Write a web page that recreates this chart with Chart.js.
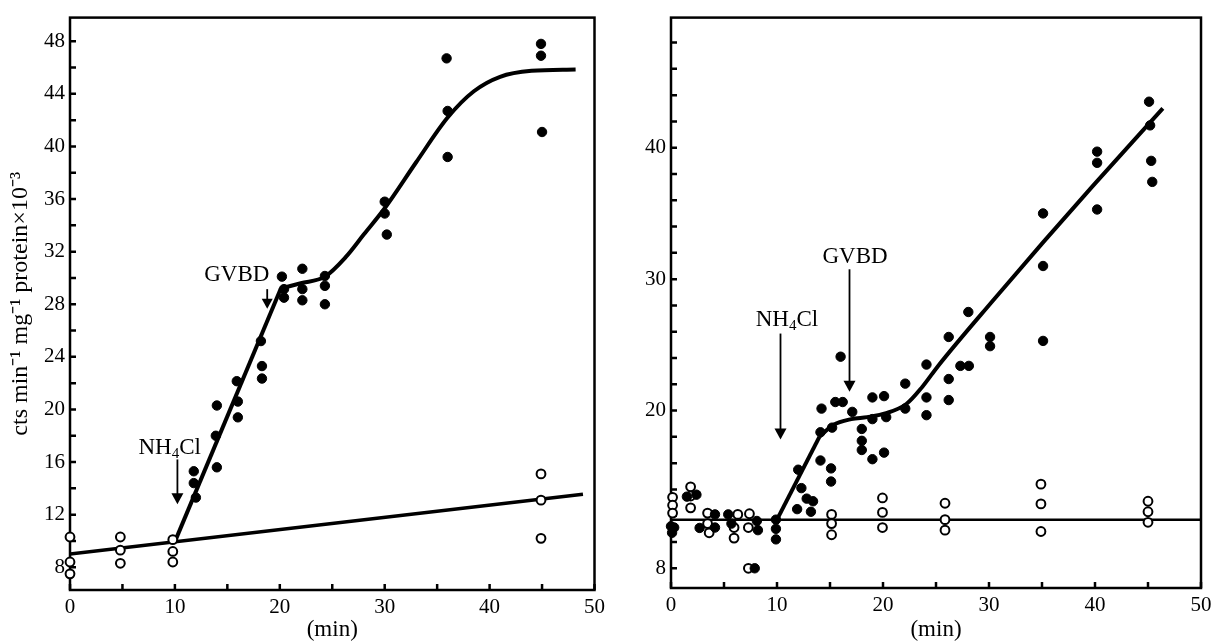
<!DOCTYPE html>
<html>
<head>
<meta charset="utf-8">
<script src="https://cdn.jsdelivr.net/npm/chart.js@4.4.1/dist/chart.umd.min.js"></script>
<style>
  html, body { margin: 0; padding: 0; background: #fff; }
  #wrap { position: relative; width: 1219px; height: 644px; }
  canvas { position: absolute; top: 0; }
  #chartA { left: 0; }
  #chartB { left: 610px; }
</style>
</head>
<body>
<div id="wrap">
  <canvas id="chartA" width="610" height="644"></canvas>
  <canvas id="chartB" width="609" height="644"></canvas>
</div>
<script>
// ---- left panel ----
const leftOpenX = [0, 0, 0, 4.8, 4.8, 4.8, 9.8, 9.8, 9.8, 44.9, 44.9, 44.9];
const leftOpenY = [10.3, 8.4, 7.5, 10.3, 9.3, 8.3, 10.1, 9.2, 8.4, 15.1, 13.1, 10.2];
const leftFilledX = [11.8, 11.8, 12.0, 14.0, 13.9, 14.0, 15.9, 16.0, 16.0, 18.2, 18.3, 18.3,
  20.2, 20.4, 20.4, 22.15, 22.15, 22.15, 24.3, 24.3, 24.3, 30.0, 30.0, 30.2, 35.9, 36.0, 36.0,
  44.9, 44.9, 45.0];
const leftFilledY = [15.3, 14.4, 13.3, 20.3, 18.0, 15.6, 22.15, 20.6, 19.4, 25.2, 23.3, 22.35,
  30.1, 29.15, 28.5, 30.7, 29.15, 28.3, 30.15, 29.4, 28.0, 35.8, 34.9, 33.3, 46.7, 42.7, 39.2,
  47.8, 46.9, 41.1];
const leftBaseX = [0, 48.9];
const leftBaseY = [9.0, 13.55];
const leftRiseX = [10, 20.1];
const leftRiseY = [9.95, 29.2];
const leftCurveX = [20.1, 22, 24.3, 26.3, 28, 30, 33, 36, 38.5, 41, 44, 48.2];
const leftCurveY = [29.2, 29.6, 30.1, 31.6, 33.3, 35.3, 38.8, 42.2, 44.2, 45.3, 45.75, 45.85];

// ---- right panel ----
const rightOpenX = [0.15, 0.15, 0.15, 1.85, 1.85, 1.85, 3.45, 3.45, 3.6, 6.3, 5.95, 5.95,
  7.4, 7.3, 7.3, 15.15, 15.15, 15.15, 19.95, 19.95, 19.95, 25.85, 25.85, 25.85,
  34.9, 34.9, 34.9, 45.0, 45.0, 45.0];
const rightOpenY = [13.4, 12.8, 12.2, 14.2, 13.5, 12.6, 12.2, 11.4, 10.7, 12.1, 11.1, 10.3,
  12.15, 11.1, 8.0, 12.1, 11.4, 10.55, 13.35, 12.25, 11.1, 12.95, 11.7, 10.9,
  14.4, 12.9, 10.8, 13.1, 12.3, 11.5];
const rightFilledX = [0, 0.3, 0.1, 1.5, 2.4, 2.7, 4.15, 4.15, 5.4, 5.7, 8.1, 8.2, 7.9,
  9.9, 9.9, 9.9, 12.0, 12.3, 12.8, 13.4, 11.9, 13.2, 14.1, 14.1, 14.2, 15.1, 15.1, 15.2,
  15.5, 16.2, 16.0, 17.1, 18.0, 18.0, 18.0, 19.0, 19.0, 19.0, 20.1, 20.3, 20.1,
  22.1, 22.1, 24.1, 24.1, 24.1, 26.2, 26.2, 26.2, 27.3, 28.1, 28.05, 30.1, 30.1,
  35.1, 35.1, 35.1, 40.2, 40.2, 40.2, 45.1, 45.2, 45.3, 45.4];
const rightFilledY = [11.2, 11.1, 10.7, 13.45, 13.6, 11.07, 12.1, 11.1, 12.1, 11.4, 11.6, 10.9, 8.0,
  11.7, 11.0, 10.2, 15.5, 14.1, 13.3, 13.1, 12.5, 12.3, 18.35, 16.2, 20.15, 15.6, 14.6, 18.7,
  20.65, 20.65, 24.1, 19.9, 18.6, 17.7, 17.0, 21.0, 19.35, 16.3, 21.1, 19.5, 16.8,
  22.05, 20.15, 23.5, 21.0, 19.65, 25.6, 22.4, 20.8, 23.4, 23.4, 27.5, 25.6, 24.9,
  35.0, 31.0, 25.3, 39.7, 38.85, 35.3, 43.5, 41.7, 39.0, 37.4];
const rightBaseX = [0, 50];
const rightBaseY = [11.7, 11.7];
const rightRiseX = [10, 14.0];
const rightRiseY = [11.7, 18.0];
const rightCurveX = [14.0, 15.3, 17.0, 18.5, 20.3, 22.2, 23.7, 25.2, 30.4, 35.1, 39.8, 46.4];
const rightCurveY = [18.0, 18.9, 19.35, 19.5, 19.8, 20.5, 21.8, 23.4, 28.4, 32.8, 37.1, 43.0];

const xTickLabels = [0, 10, 20, 30, 40, 50];
const leftYTickLabels = [8, 12, 16, 20, 24, 28, 32, 36, 40, 44, 48];
const rightYTickLabels = [8, 20, 30, 40];

const yTitle = 'cts min\u207B\u00B9 mg\u207B\u00B9 protein\u00D710\u207B\u00B3';

Chart.defaults.font.family = '"Liberation Serif", "Times New Roman", serif';
Chart.defaults.color = '#000';

const pts = (xs, ys) => xs.map((x, i) => ({ x: x, y: ys[i] }));

// frame and inward tick marks under the data, arrow notes on top
const marks = {
  id: 'marks',
  beforeDatasetsDraw(chart) {
    const { ctx, chartArea: a, scales } = chart;
    ctx.save();
    ctx.strokeStyle = '#000';
    ctx.lineWidth = 2.5;
    ctx.strokeRect(a.left, a.top, a.right - a.left, a.bottom - a.top);
    ctx.beginPath();
    scales.x.ticks.forEach(t => {
      const px = scales.x.getPixelForValue(t.value);
      ctx.moveTo(px, a.bottom);
      ctx.lineTo(px, a.bottom - 6);
    });
    scales.y.ticks.forEach(t => {
      const py = scales.y.getPixelForValue(t.value);
      ctx.moveTo(a.left, py);
      ctx.lineTo(a.left + 6, py);
    });
    ctx.stroke();
    ctx.restore();
  },
  afterDatasetsDraw(chart, args, opts) {
    const { ctx, scales } = chart;
    ctx.save();
    ctx.strokeStyle = '#000';
    ctx.fillStyle = '#000';
    (opts.notes || []).forEach(n => {
      const sx = scales.x, sy = scales.y;
      const mainFont = '23px "Liberation Serif"';
      const subFont = '15px "Liberation Serif"';
      let w = 0;
      n.parts.forEach(p => {
        ctx.font = p[1] ? subFont : mainFont;
        w += ctx.measureText(p[0]).width;
      });
      let cx = sx.getPixelForValue(n.tx) - w / 2;
      const cy = sy.getPixelForValue(n.ty);
      ctx.textBaseline = 'middle';
      ctx.textAlign = 'left';
      n.parts.forEach(p => {
        ctx.font = p[1] ? subFont : mainFont;
        ctx.fillText(p[0], cx, p[1] ? cy + 6 : cy);
        cx += ctx.measureText(p[0]).width;
      });
      // arrow
      const ax = sx.getPixelForValue(n.x);
      const y0 = sy.getPixelForValue(n.y0);
      const y1 = sy.getPixelForValue(n.y1);
      const head = n.head || 11;
      ctx.lineWidth = 1.8;
      ctx.beginPath();
      ctx.moveTo(ax, y0);
      ctx.lineTo(ax, y1 - head + 1);
      ctx.stroke();
      ctx.beginPath();
      ctx.moveTo(ax - head / 2 - 0.5, y1 - head);
      ctx.lineTo(ax + head / 2 + 0.5, y1 - head);
      ctx.lineTo(ax, y1);
      ctx.closePath();
      ctx.fill();
    });
    ctx.restore();
  }
};

function makeChart(id, cfg) {
  const datasets = [
    { data: pts(cfg.filledX, cfg.filledY), pointRadius: 4.7, pointBorderWidth: 1,
      pointBackgroundColor: '#000', pointBorderColor: '#000', clip: false, order: 1 },
    { data: pts(cfg.openX, cfg.openY), pointRadius: 4.4, pointBorderWidth: 2,
      pointBackgroundColor: '#fff', pointBorderColor: '#000', clip: false, order: 2 },
    { data: pts(cfg.baseX, cfg.baseY), showLine: true, pointRadius: 0,
      borderColor: '#000', borderWidth: cfg.baseWidth, order: 3 },
    { data: pts(cfg.riseX, cfg.riseY), showLine: true, pointRadius: 0,
      borderColor: '#000', borderWidth: 4, order: 3 },
    { data: pts(cfg.curveX, cfg.curveY), showLine: true, pointRadius: 0,
      borderColor: '#000', borderWidth: 4, cubicInterpolationMode: 'monotone', order: 3 }
  ];
  return new Chart(document.getElementById(id), {
    type: 'scatter',
    data: { datasets: datasets },
    plugins: [marks],
    options: {
      responsive: false,
      animation: false,
      events: [],
      layout: { padding: cfg.padding },
      plugins: {
        legend: { display: false },
        tooltip: { enabled: false },
        marks: { notes: cfg.notes }
      },
      scales: {
        x: {
          type: 'linear', min: 0, max: 50,
          grid: { display: false, drawTicks: false },
          border: { display: false },
          ticks: {
            stepSize: 5, autoSkip: false, includeBounds: false, maxRotation: 0, padding: 5,
            font: { size: 21 },
            callback: v => xTickLabels.includes(v) ? String(v) : ''
          },
          title: { display: true, text: '(min)', font: { size: 23 }, padding: { top: 0, bottom: 0 } },
          afterFit: s => { s.height = cfg.xHeight; }
        },
        y: {
          type: 'linear', min: cfg.yMin, max: cfg.yMax,
          grid: { display: false, drawTicks: false },
          border: { display: false },
          ticks: {
            stepSize: 2, autoSkip: false, includeBounds: false, padding: 5,
            font: { size: 21 },
            callback: v => cfg.yLabels.includes(v) ? String(v) : ''
          },
          title: cfg.yTitle ? { display: true, text: cfg.yTitle, font: { size: 24 }, padding: { top: 6, bottom: 0 } } : { display: false },
          afterFit: s => { s.width = cfg.yWidth; }
        }
      }
    }
  });
}

makeChart('chartA', {
  filledX: leftFilledX, filledY: leftFilledY, openX: leftOpenX, openY: leftOpenY,
  baseX: leftBaseX, baseY: leftBaseY, baseWidth: 3.5,
  riseX: leftRiseX, riseY: leftRiseY, curveX: leftCurveX, curveY: leftCurveY,
  yMin: 6.27, yMax: 49.8, yLabels: leftYTickLabels, yTitle: yTitle,
  yWidth: 70, xHeight: 54, padding: { top: 10, right: 8, bottom: 0, left: 0 },
  notes: [
    { parts: [['NH', 0], ['4', 1], ['Cl', 0]], tx: 9.5, ty: 17.1, x: 10.24, y0: 16.2, y1: 12.8, head: 11 },
    { parts: [['GVBD', 0]], tx: 15.9, ty: 30.2, x: 18.8, y0: 29.15, y1: 27.65, head: 10 }
  ]
});

makeChart('chartB', {
  filledX: rightFilledX, filledY: rightFilledY, openX: rightOpenX, openY: rightOpenY,
  baseX: rightBaseX, baseY: rightBaseY, baseWidth: 2.5,
  riseX: rightRiseX, riseY: rightRiseY, curveX: rightCurveX, curveY: rightCurveY,
  yMin: 6.5, yMax: 49.9, yLabels: rightYTickLabels, yTitle: null,
  yWidth: 61, xHeight: 56, padding: { top: 11, right: 18, bottom: 0, left: 0 },
  notes: [
    { parts: [['NH', 0], ['4', 1], ['Cl', 0]], tx: 10.94, ty: 26.9, x: 10.33, y0: 25.86, y1: 17.8, head: 11 },
    { parts: [['GVBD', 0]], tx: 17.36, ty: 31.7, x: 16.84, y0: 30.75, y1: 21.43, head: 11 }
  ]
});
</script>
</body>
</html>
